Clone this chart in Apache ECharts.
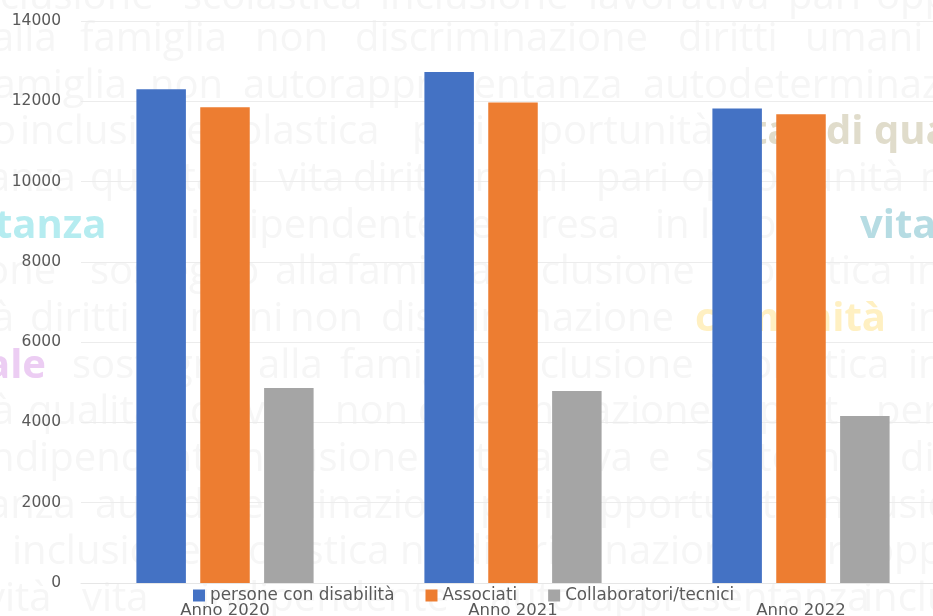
<!DOCTYPE html>
<html><head><meta charset="utf-8">
<style>html,body{margin:0;padding:0;background:#fff;overflow:hidden}#c{width:933px;height:616px}</style>
<script src="https://cdn.jsdelivr.net/npm/echarts@6/dist/echarts.min.js"></script>
</head><body><div id="c"></div>
<script>
const categories = ['Anno 2020','Anno 2021','Anno 2022'];
const personeConDisabilita = [12300,12730,11820];
const associati = [11850,11970,11680];
const collaboratori = [4860,4780,4160];
const yTicks = {min:0,max:14000,interval:2000};

// Faded word-cloud backdrop: [word, x, lineCentreY, optional bold colour]
const backdropWords = [
 ['inclusione',-35,-2],['scolastica',183,-2],['inclusione',380,-2],['lavorativa',588,-2],['pari',788,-2],['opportunità',876,-2],
 ['alla',-8,40],['famiglia',80,40],['non',255,40],['discriminazione',355,40],['diritti',678,40],['umani',805,40],
 ['famiglia',-20,87],['non',150,87],['autorappresentanza',243,87],['autodeterminazione',643,87],
 ['o',-8,133],['inclusione',20,133],['scolastica',200,133],['pari',412,133],['opportunità',490,133],['vita',715,133,'#e0dccb'],['di qualità',826,133,'#e0dccb'],
 ['anza',-12,180],['qualità',90,180],['di',225,180],['vita',278,180],['diritti',353,180],['umani',450,180],['pari',596,180],['opportunità',681,180],['n',920,180],
 ['tanza',-5,227,'#b5ecf0'],['indipendente',190,227],['e',470,227],['resa',540,227],['in',655,227],['lavoro',700,227],['vita',860,227,'#b6dce3'],
 ['ione',-25,273],['sostegno',90,273],['alla',275,273],['famiglia',345,273],['inclusione',506,273],['scolastica',713,273],['in',907,273],
 ['à',-8,320],['diritti',30,320],['umani',165,320],['non',290,320],['discriminazione',381,320],['comunità',695,320,'#fff0c2'],['in',908,320],
 ['ale',-14,367,'#eccdf3'],['sostegno',72,367],['alla',258,367],['famiglia',340,367],['inclusione',505,367],['scolastica',710,367],['in',908,367],
 ['à',-8,413],['qualità',28,413],['di',190,413],['vita',245,413],['non',335,413],['discriminazione',418,413],['sport',740,413],['per',876,413],
 ['indipendente',-20,460],['inclusione',230,460],['vita',445,460],['attiva',530,460],['e',648,460],['sostegno',695,460],['di',900,460],
 ['anza',-12,507],['autodeterminazione',95,507],['pari',480,507],['opportunità',575,507],['inclusione',810,507],
 ['inclusione',12,553],['scolastica',210,553],['non',400,553],['discriminazione',458,553],['pari',780,553],['opp',870,553],
 ['vità',-15,600],['vita',82,600],['indipendente',200,600],['autorappresentanza',490,600],['inclu',863,600]
];

const chart = echarts.init(document.getElementById('c'));
const textColor = '#595959';
const fontFamily = '"DejaVu Sans", sans-serif';
chart.setOption({
  animation:false,
  backgroundColor:'#fff',
  graphic: backdropWords.map(([w,x,y,col]) => ({
    type:'text', silent:true, z:-10, x, y,
    style:{text:w, fill:col||'#f6f6f6', font:(col?'700 ':'400 ')+'40px "Open Sans", sans-serif', verticalAlign:'middle', align:'left'}
  })),
  grid:{left:81,width:864,top:21,height:562,outerBoundsMode:'none'},
  legend:{
    left:193,top:587,itemWidth:12,itemHeight:12,itemGap:31,icon:'rect',padding:0,
    textStyle:{color:textColor,fontSize:16.8,fontFamily},
    data:['persone con disabilità','Associati','Collaboratori/tecnici']
  },
  xAxis:{
    type:'category',data:categories,
    axisTick:{show:false},
    axisLine:{lineStyle:{color:'#e6e6e6'}},
    axisLabel:{color:textColor,fontSize:16.5,fontFamily,margin:19,hideOverlap:false}
  },
  yAxis:{
    type:'value',...yTicks,
    axisLine:{show:false},axisTick:{show:false},
    splitLine:{lineStyle:{color:'#ececec'}},
    axisLabel:{color:textColor,fontSize:15.5,fontFamily,margin:20,padding:[5,0,0,0],formatter:v=>String(v)}
  },
  series:[
    {name:'persone con disabilità',type:'bar',data:personeConDisabilita,barWidth:49.5,barGap:'29%',itemStyle:{color:'#4472C4'}},
    {name:'Associati',type:'bar',data:associati,barWidth:49.5,barGap:'29%',itemStyle:{color:'#ED7D31'}},
    {name:'Collaboratori/tecnici',type:'bar',data:collaboratori,barWidth:49.5,barGap:'29%',itemStyle:{color:'#A5A5A5'}}
  ]
});
</script></body></html>
